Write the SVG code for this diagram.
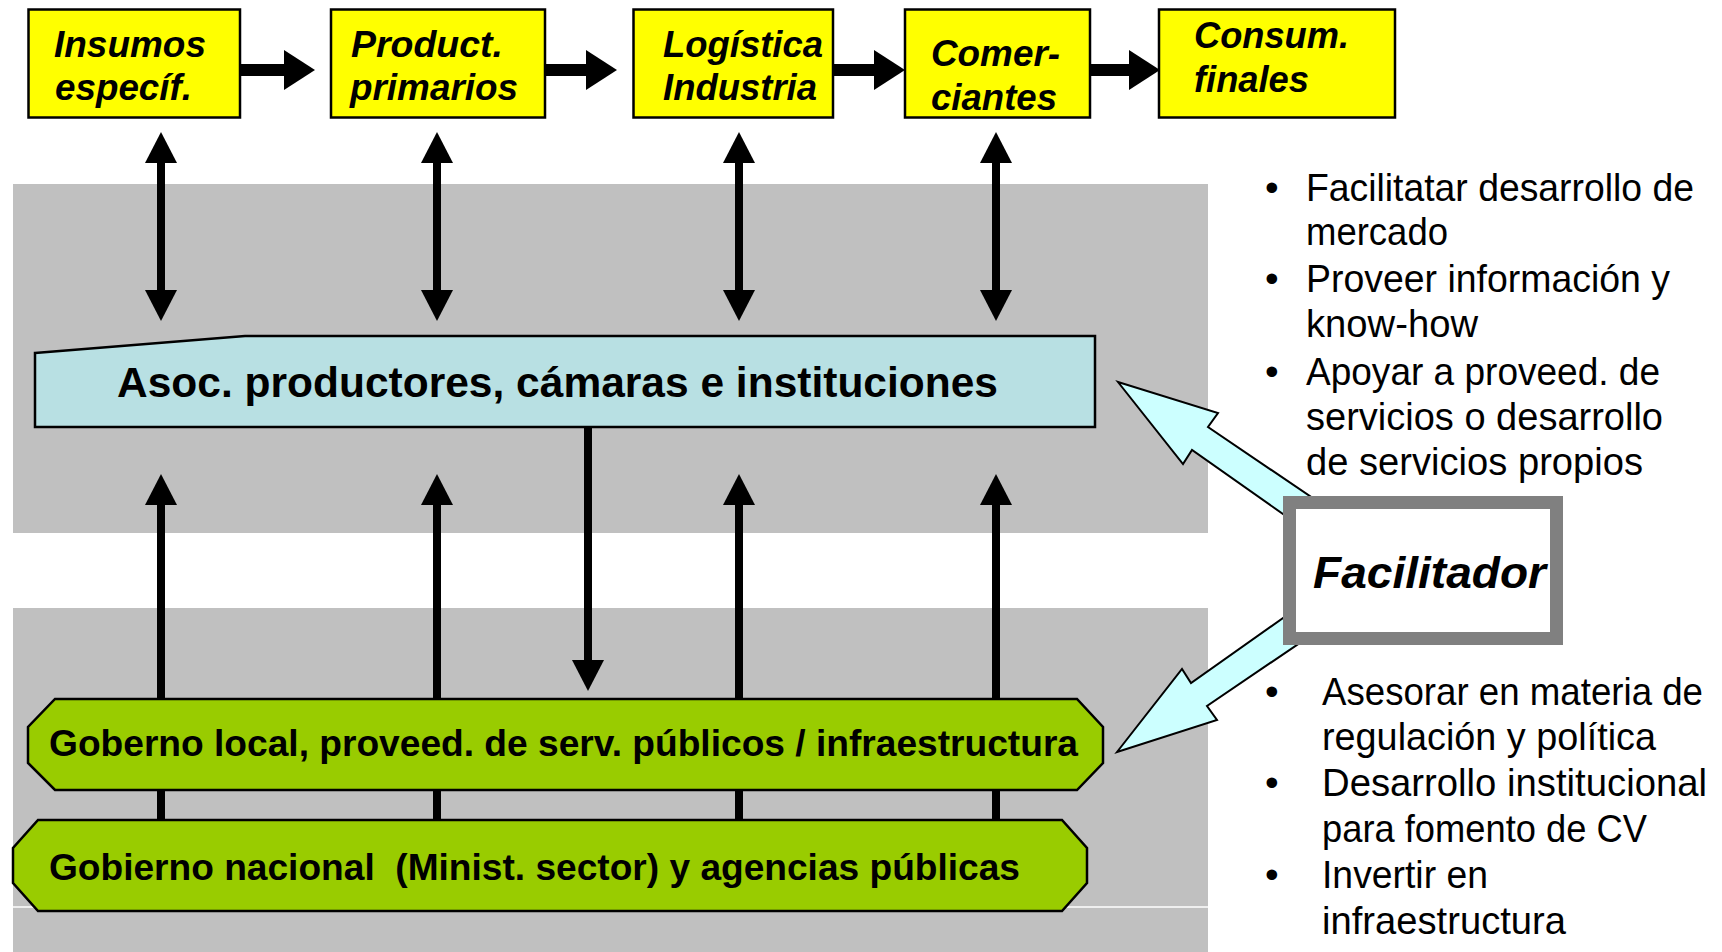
<svg xmlns="http://www.w3.org/2000/svg" width="1722" height="952" viewBox="0 0 1722 952">
<style>
.band{fill:#C0C0C0}
.ybox{fill:#FFFF00;stroke:#000;stroke-width:2.5}
.tb{font-family:"Liberation Sans",Arial,sans-serif;font-weight:bold;font-style:italic;font-size:37px;fill:#000}
.bt{font-family:"Liberation Sans",Arial,sans-serif;font-size:39px;fill:#000}
.gt{font-family:"Liberation Sans",Arial,sans-serif;font-weight:bold;font-size:37px;fill:#000;white-space:pre}
.at{font-family:"Liberation Sans",Arial,sans-serif;font-weight:bold;font-size:42px;fill:#000}
.ft{font-family:"Liberation Sans",Arial,sans-serif;font-weight:bold;font-style:italic;font-size:45px;fill:#000}
.vs{stroke:#000;stroke-width:8;fill:none}
.hs{stroke:#000;stroke-width:12;fill:none}
.green{fill:#99CC00;stroke:#000;stroke-width:2.5}
.cyan{fill:#CCFFFF;stroke:#000;stroke-width:2;stroke-linejoin:miter}
</style>
<defs>
<marker id="av" markerUnits="userSpaceOnUse" markerWidth="31" markerHeight="32" viewBox="0 0 31 32" refX="0" refY="16" orient="auto-start-reverse">
<path d="M0,0 L31,16 L0,32 z" fill="#000"/>
</marker>
<marker id="ah" markerUnits="userSpaceOnUse" markerWidth="31" markerHeight="40" viewBox="0 0 31 40" refX="0" refY="20" orient="auto">
<path d="M0,0 L31,20 L0,40 z" fill="#000"/>
</marker>
</defs>

<g id="background">
<rect class="band" x="13" y="184" width="1195" height="349"/>
<rect class="band" x="13" y="608" width="1195" height="344"/>
<line x1="13" y1="907" x2="1208" y2="907" stroke="#FFFFFF" stroke-width="1.5"/>
</g>

<g id="connectors">
<line class="hs" x1="240" y1="70" x2="284" y2="70" marker-end="url(#ah)"/>
<line class="hs" x1="545" y1="70" x2="586" y2="70" marker-end="url(#ah)"/>
<line class="hs" x1="833" y1="70" x2="874" y2="70" marker-end="url(#ah)"/>
<line class="hs" x1="1090" y1="70" x2="1129" y2="70" marker-end="url(#ah)"/>

<line class="vs" x1="161" y1="163" x2="161" y2="290" marker-start="url(#av)" marker-end="url(#av)"/>
<line class="vs" x1="437" y1="163" x2="437" y2="290" marker-start="url(#av)" marker-end="url(#av)"/>
<line class="vs" x1="739" y1="163" x2="739" y2="290" marker-start="url(#av)" marker-end="url(#av)"/>
<line class="vs" x1="996" y1="163" x2="996" y2="290" marker-start="url(#av)" marker-end="url(#av)"/>

<line class="vs" x1="161" y1="822" x2="161" y2="505" marker-end="url(#av)"/>
<line class="vs" x1="437" y1="822" x2="437" y2="505" marker-end="url(#av)"/>
<line class="vs" x1="739" y1="822" x2="739" y2="505" marker-end="url(#av)"/>
<line class="vs" x1="996" y1="822" x2="996" y2="505" marker-end="url(#av)"/>

<line class="vs" x1="588" y1="426" x2="588" y2="660" marker-end="url(#av)"/>

<polygon class="cyan" points="1118,382 1218,413 1208,427 1320,503 1300,526 1192,450 1183,464"/>
<polygon class="cyan" points="1117,752 1182,669 1191,683 1300,606 1310,636 1207,706 1217,720"/>
</g>

<g id="n-insumos">
<rect class="ybox" x="28.5" y="9.5" width="211.5" height="108"/>
<text class="tb" x="54" y="57" textLength="152" lengthAdjust="spacingAndGlyphs">Insumos</text>
<text class="tb" x="55" y="100" textLength="137" lengthAdjust="spacingAndGlyphs">específ.</text>
</g>
<g id="n-product">
<rect class="ybox" x="331" y="9.5" width="214" height="108"/>
<text class="tb" x="351" y="57" textLength="152" lengthAdjust="spacingAndGlyphs">Product.</text>
<text class="tb" x="350" y="100" textLength="168" lengthAdjust="spacingAndGlyphs">primarios</text>
</g>
<g id="n-logistica">
<rect class="ybox" x="633.5" y="9.5" width="199.5" height="108"/>
<text class="tb" x="663" y="57" textLength="160" lengthAdjust="spacingAndGlyphs">Logística</text>
<text class="tb" x="663" y="100" textLength="154" lengthAdjust="spacingAndGlyphs">Industria</text>
</g>
<g id="n-comer">
<rect class="ybox" x="905" y="9.5" width="185" height="108"/>
<text class="tb" x="931" y="66" textLength="129" lengthAdjust="spacingAndGlyphs">Comer-</text>
<text class="tb" x="931" y="110" textLength="126" lengthAdjust="spacingAndGlyphs">ciantes</text>
</g>
<g id="n-consum">
<rect class="ybox" x="1159" y="9.5" width="236" height="108"/>
<text class="tb" x="1194" y="48" textLength="155" lengthAdjust="spacingAndGlyphs">Consum.</text>
<text class="tb" x="1194" y="92" textLength="115" lengthAdjust="spacingAndGlyphs">finales</text>
</g>

<g id="n-asoc">
<polygon points="35,353 245,336 1095,336 1095,427 35,427" fill="#B8E0E3" stroke="#000" stroke-width="2.5"/>
<text class="at" x="117" y="397" textLength="881" lengthAdjust="spacingAndGlyphs">Asoc. productores, cámaras e instituciones</text>
</g>

<g id="n-gob-local">
<polygon class="green" points="55,699 1077,699 1103,727 1103,763 1077,790 55,790 28,763 28,727"/>
<text class="gt" x="49" y="756" textLength="1029" lengthAdjust="spacingAndGlyphs">Goberno local, proveed. de serv. públicos / infraestructura</text>
</g>

<g id="n-gob-nacional">
<polygon class="green" points="38,820 1062,820 1087,848 1087,883 1062,911 38,911 13,883 13,848"/>
<text class="gt" x="49" y="880" textLength="971" lengthAdjust="spacingAndGlyphs" xml:space="preserve">Gobierno nacional  (Minist. sector) y agencias públicas</text>
</g>

<g id="n-facilitador">
<rect x="1289.5" y="502.5" width="267" height="136" fill="#FFFFFF" stroke="#808080" stroke-width="13"/>
<text class="ft" x="1313" y="588" textLength="233" lengthAdjust="spacingAndGlyphs">Facilitador</text>
</g>

<g id="n-tareas-mercado">
<text class="bt" x="1265" y="201">•</text>
<text class="bt" x="1306" y="201" textLength="388" lengthAdjust="spacingAndGlyphs">Facilitatar desarrollo de</text>
<text class="bt" x="1306" y="245" textLength="142" lengthAdjust="spacingAndGlyphs">mercado</text>
<text class="bt" x="1265" y="292">•</text>
<text class="bt" x="1306" y="292" textLength="364" lengthAdjust="spacingAndGlyphs">Proveer información y</text>
<text class="bt" x="1306" y="337" textLength="172" lengthAdjust="spacingAndGlyphs">know-how</text>
<text class="bt" x="1265" y="385">•</text>
<text class="bt" x="1306" y="385" textLength="354" lengthAdjust="spacingAndGlyphs">Apoyar a proveed. de</text>
<text class="bt" x="1306" y="430" textLength="357" lengthAdjust="spacingAndGlyphs">servicios o desarrollo</text>
<text class="bt" x="1306" y="475" textLength="337" lengthAdjust="spacingAndGlyphs">de servicios propios</text>
</g>

<g id="n-tareas-gobierno">
<text class="bt" x="1265" y="705">•</text>
<text class="bt" x="1322" y="705" textLength="381" lengthAdjust="spacingAndGlyphs">Asesorar en materia de</text>
<text class="bt" x="1322" y="750" textLength="334" lengthAdjust="spacingAndGlyphs">regulación y política</text>
<text class="bt" x="1265" y="796">•</text>
<text class="bt" x="1322" y="796" textLength="385" lengthAdjust="spacingAndGlyphs">Desarrollo institucional</text>
<text class="bt" x="1322" y="842" textLength="325" lengthAdjust="spacingAndGlyphs">para fomento de CV</text>
<text class="bt" x="1265" y="888">•</text>
<text class="bt" x="1322" y="888" textLength="166" lengthAdjust="spacingAndGlyphs">Invertir en</text>
<text class="bt" x="1322" y="934" textLength="244" lengthAdjust="spacingAndGlyphs">infraestructura</text>
</g>
</svg>
